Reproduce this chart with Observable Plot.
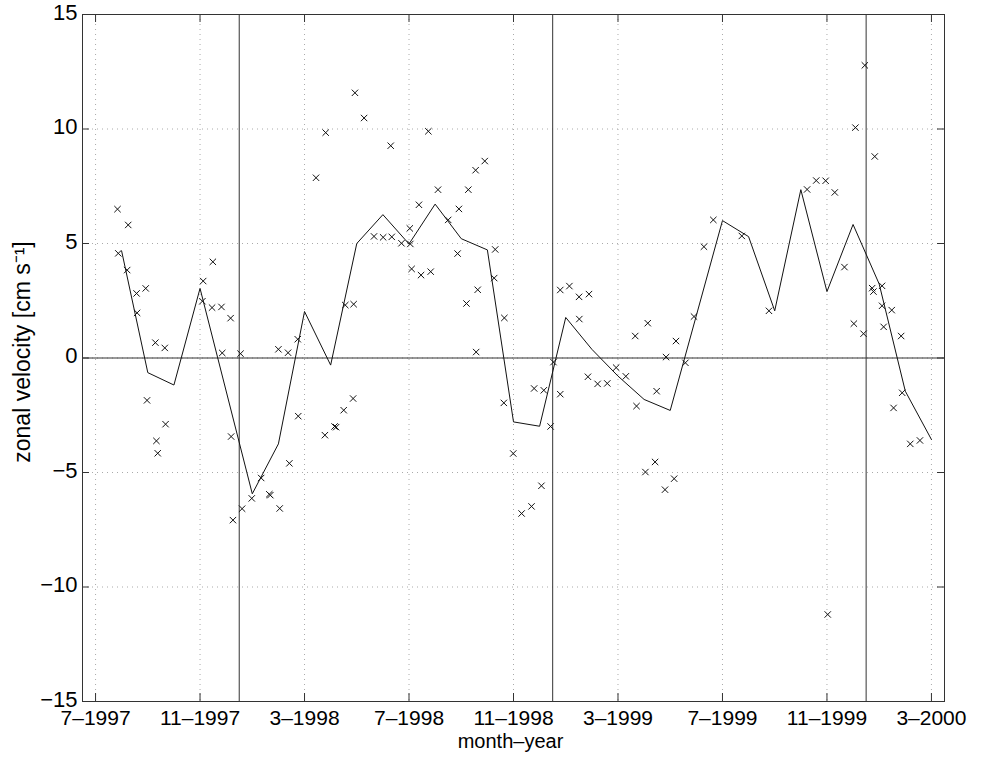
<!DOCTYPE html>
<html><head><meta charset="utf-8">
<script src="https://cdn.jsdelivr.net/npm/d3@7"></script>
<script src="https://cdn.jsdelivr.net/npm/@observablehq/plot@0.6"></script>
<style>body{margin:0;background:#fff}</style>
</head><body><div id="chart"></div>
<script>
// Month index: 7 = Jul 1997, 12 = Dec 1997, 13 = Jan 1998, ... 39 = Mar 2000
const obsMonth = [7.84,8.25,7.87,8.21,8.57,8.92,8.59,9.29,9.65,8.97,9.68,9.33,9.38,
  11.12,11.49,11.09,11.46,11.82,12.17,11.85,12.55,12.19,12.26,12.61,12.98,13.34,13.65,13.69,14.05,14.42,14.00,14.37,14.74,14.76,
  15.44,15.81,16.93,17.28,18.30,15.78,16.15,16.21,16.50,16.86,16.56,16.88,
  17.66,18.01,18.34,18.71,19.05,19.03,19.38,19.74,20.11,20.50,20.91,21.27,21.55,21.90,19.10,19.46,19.83,20.86,22.30,21.63,21.20,22.26,22.65,21.57,22.63,22.99,
  23.31,23.69,
  23.79,24.16,24.42,24.07,24.53,24.79,24.79,25.14,25.51,25.89,25.52,25.85,26.22,26.59,26.93,27.30,27.71,28.14,27.66,28.48,28.05,28.42,28.80,29.15,28.84,29.22,29.58,29.91,30.29,30.65,
  31.74,32.78,34.24,34.59,34.95,35.30,35.67,36.09,36.45,36.83,36.03,36.40,36.73,36.78,37.11,37.11,37.48,37.17,37.84,37.88,37.55,38.19,38.56,35.03];
const obsVelocity = [6.50,5.81,4.57,3.84,2.82,3.04,1.97,0.67,0.44,-1.85,-2.89,-3.62,-4.16,
  3.36,4.20,2.48,2.20,2.23,1.74,0.22,0.19,-3.43,-7.08,-6.58,-6.13,-5.24,-5.95,-5.99,-6.57,-4.60,0.38,0.23,0.82,-2.54,
  7.87,9.84,11.58,10.48,9.27,-3.37,-2.99,-3.02,-2.28,-1.77,2.31,2.35,
  5.31,5.27,5.29,5.01,4.98,5.66,6.69,9.90,7.35,6.03,6.51,7.35,8.20,8.60,3.89,3.62,3.77,4.56,4.74,2.98,2.38,3.49,1.75,0.26,-1.96,-4.17,
  -6.79,-6.48,
  -1.33,-1.41,-2.99,-5.58,-0.18,2.97,-1.58,3.14,2.67,2.79,1.70,-0.82,-1.13,-1.11,-0.42,-0.80,-2.10,1.52,0.96,-1.45,-4.98,-4.54,-5.75,-5.27,0.04,0.74,-0.21,1.81,4.86,6.03,
  5.33,2.06,7.36,7.75,7.74,7.23,3.97,10.06,12.78,8.80,1.50,1.06,3.05,2.90,3.15,2.28,2.09,1.36,0.96,-1.52,-2.18,-3.75,-3.60,-11.2];
const meanMonth = [8,9,10,11,13,14,15,16,17,18,19,20,21,22,23,24,25,26,27,28,29,31,32,33,34,35,36,37,38,39];
const meanVelocity = [4.66,-0.64,-1.18,3.04,-5.93,-3.75,2.03,-0.31,5.0,6.26,4.98,6.72,5.21,4.72,-2.79,-2.98,1.77,0.38,-0.79,-1.81,-2.29,6.0,5.3,2.06,7.35,2.9,5.83,3.23,-1.45,-3.56];
const xTicks = [7,11,15,19,23,27,31,35,39];
const xTickLabels = ["7–1997","11–1997","3–1998","7–1998","11–1998","3–1999","7–1999","11–1999","3–2000"];
const yTicks = [-15,-10,-5,0,5,10,15];
const yearBoundaries = [12.5,24.5,36.5];
const xLabel = "month–year";
const yLabel = "zonal velocity [cm s⁻¹]";

const W = 983, H = 758, mL = 82, mR = 39, mT = 14, mB = 57;
const innerH = H - mT - mB, innerW = W - mL - mR;
const obs = obsMonth.map((t, i) => ({t, v: obsVelocity[i]}));
const means = meanMonth.map((t, i) => ({t, v: meanVelocity[i]}));
const axisColor = "#333";

const chart = Plot.plot({
  width: W, height: H,
  marginLeft: mL, marginRight: mR, marginTop: mT, marginBottom: mB,
  x: {domain: [6.5, 39.5]},
  y: {domain: [-15, 15]},
  style: {fontFamily: "'Liberation Sans', Arial, Helvetica, sans-serif", background: "white", color: "black"},
  marks: [
    Plot.ruleX(xTicks, {x: d => d, stroke: "#aaa", strokeDasharray: "1,4"}),
    Plot.ruleY(yTicks, {y: d => d, stroke: "#aaa", strokeDasharray: "1,4"}),
    Plot.ruleY([0], {stroke: axisColor, strokeWidth: 1}),
    Plot.ruleX(yearBoundaries, {x: d => d, stroke: axisColor, strokeWidth: 1}),
    Plot.tickX(xTicks, {x: d => d, insetTop: innerH - 8, stroke: axisColor}),
    Plot.tickX(xTicks, {x: d => d, insetBottom: innerH - 8, stroke: axisColor}),
    Plot.tickY(yTicks, {y: d => d, insetRight: innerW - 7, stroke: axisColor}),
    Plot.tickY(yTicks, {y: d => d, insetLeft: innerW - 7, stroke: axisColor}),
    Plot.line(means, {x: "t", y: "v", stroke: "#111", strokeWidth: 1}),
    Plot.dot(obs, {x: "t", y: "v", symbol: "times", r: 3, stroke: "#111", strokeWidth: 1}),
    Plot.frame({stroke: axisColor}),
    Plot.axisX(xTicks, {tickSize: 0, tickPadding: 9, fontSize: 21, label: null,
      tickFormat: d => xTickLabels[xTicks.indexOf(d)]}),
    Plot.axisY(yTicks, {tickSize: 0, tickPadding: 5, fontSize: 22, dy: -2, label: null,
      tickFormat: d => d < 0 ? "−" + Math.abs(d) : String(d)}),
    Plot.text([xLabel], {text: d => d, frameAnchor: "bottom", dy: 46, dx: -3, fontSize: 20}),
    Plot.text([yLabel], {text: d => d, frameAnchor: "left", textAnchor: "middle", dx: -60, dy: -6, rotate: -90, fontSize: 23})
  ]
});
document.getElementById("chart").appendChild(chart);
</script>
</body></html>
